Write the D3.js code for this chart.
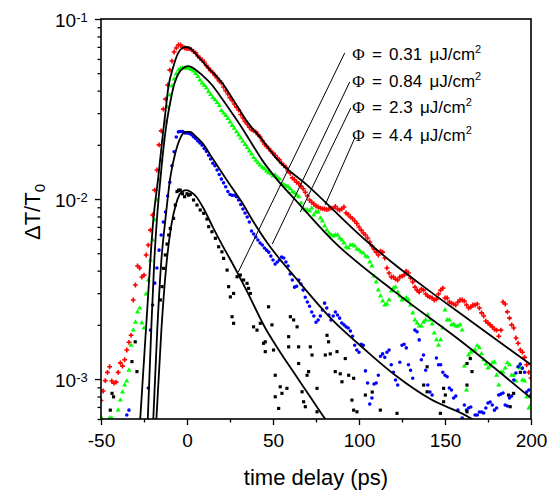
<!DOCTYPE html>
<html><head><meta charset="utf-8">
<script src="https://cdn.jsdelivr.net/npm/d3@7"></script>
<style>body{margin:0;background:#fff}</style>
</head><body><svg id="c" width="549" height="494"></svg>
<script>
// ---------- data ----------
const times = [-50,-47.5,-45,-42.5,-40,-37.5,-35,-32.5,-30,-27.5,-25,-22.5,-20,-17.5,-15,-12.5,-10,-7.5,-5,-2.5,0,2.5,5,7.5,10,12.5,15,17.5,20,22.5,25,27.5,30,32.5,35,37.5,40,42.5,45,47.5,50,52.5,55,57.5,60,62.5,65,67.5,70,72.5,75,77.5,80,82.5,85,87.5,90,92.5,95,97.5,100,102.5,105,107.5,110,112.5,115,117.5,120,122.5,125,127.5,130,132.5,135,137.5,140,142.5,145,147.5,150,152.5,155,157.5,160,162.5,165,167.5,170,172.5,175,177.5,180,182.5,185,187.5,190,192.5,195,197.5,200];
const times2 = [-48.75,-46.25,-43.75,-41.25,-38.75,-36.25,-33.75,-31.25,-28.75,-26.25,-23.75,-21.25,-18.75,-16.25,-13.75,-11.25,-8.75,-6.25,-3.75,-1.25,1.25,3.75,6.25,8.75,11.25,13.75,16.25,18.75,21.25,23.75,26.25,28.75,31.25,33.75,36.25,38.75,41.25,43.75,46.25,48.75,51.25,53.75,56.25,58.75,61.25,63.75,66.25,68.75,71.25,73.75,76.25,78.75,81.25,83.75,86.25,88.75,91.25,93.75,96.25,98.75,101.25,103.75,106.25,108.75,111.25,113.75,116.25,118.75,121.25,123.75,126.25,128.75,131.25,133.75,136.25,138.75,141.25,143.75,146.25,148.75,151.25,153.75,156.25,158.75,161.25,163.75,166.25,168.75,171.25,173.75,176.25,178.75,181.25,183.75,186.25,188.75,191.25,193.75,196.25,198.75];

const red = [7.6e-4,9.8e-4,1.17e-3,9.5e-4,1.09e-3,1.18e-3,1.45e-3,1.75e-3,3.33e-3,4.14e-3,3.78e-3,5.55e-3,8.15e-3,1.45e-2,2.39e-2,3.59e-2,5.2e-2,6.56e-2,7.17e-2,6.99e-2,6.85e-2,6.77e-2,6.48e-2,6.07e-2,5.77e-2,5.34e-2,5.04e-2,4.7e-2,4.41e-2,4.0e-2,3.66e-2,3.37e-2,3.12e-2,2.82e-2,2.61e-2,2.43e-2,2.36e-2,2.21e-2,2.02e-2,1.91e-2,1.8e-2,1.69e-2,1.58e-2,1.5e-2,1.39e-2,1.28e-2,1.22e-2,1.14e-2,1.04e-2,9.6e-3,9.15e-3,8.9e-3,8.8e-3,8.8e-3,8.9e-3,8.8e-3,8.8e-3,8.36e-3,7.94e-3,7.55e-3,6.99e-3,6.48e-3,6.07e-3,5.48e-3,5.07e-3,5.14e-3,4.7e-3,3.88e-3,3.69e-3,3.55e-3,3.73e-3,3.98e-3,3.64e-3,3.24e-3,3.04e-3,3.12e-3,2.89e-3,2.82e-3,2.78e-3,3.12e-3,2.82e-3,2.68e-3,2.61e-3,2.68e-3,2.75e-3,2.58e-3,2.51e-3,2.58e-3,2.48e-3,2.24e-3,2.05e-3,1.95e-3,1.87e-3,1.87e-3,2.61e-3,2.18e-3,1.92e-3,1.58e-3,1.41e-3,1.2e-3,1.01e-3];
const red2 = [8.58e-4,1.09e-3,9.75e-4,9.62e-4,1.23e-3,1.28e-3,1.6e-3,2.75e-3,4.25e-3,3.69e-3,4.89e-3,6.72e-3,1.12e-2,2.0e-2,3.16e-2,4.3e-2,5.84e-2,6.9e-2,7.17e-2,6.9e-2,6.85e-2,6.6e-2,6.23e-2,5.92e-2,5.52e-2,5.17e-2,4.86e-2,4.53e-2,4.19e-2,3.83e-2,3.53e-2,3.24e-2,2.95e-2,2.7e-2,2.51e-2,2.39e-2,2.28e-2,2.11e-2,1.96e-2,1.85e-2,1.75e-2,1.65e-2,1.54e-2,1.43e-2,1.31e-2,1.24e-2,1.18e-2,1.09e-2,9.87e-3,9.38e-3,9.03e-3,8.85e-3,8.74e-3,8.91e-3,9.09e-3,8.69e-3,9.03e-3,8.2e-3,7.79e-3,7.31e-3,6.72e-3,6.31e-3,5.77e-3,5.27e-3,4.89e-3,5.07e-3,4.14e-3,3.69e-3,3.59e-3,3.69e-3,3.78e-3,3.88e-3,3.46e-3,3.12e-3,3.16e-3,2.97e-3,2.85e-3,2.75e-3,2.97e-3,3.2e-3,2.82e-3,2.64e-3,2.58e-3,2.75e-3,2.71e-3,2.48e-3,2.58e-3,2.61e-3,2.33e-3,2.1e-3,2.0e-3,1.89e-3,1.73e-3,2.68e-3,2.36e-3,2.0e-3,1.69e-3,1.45e-3,1.32e-3,1.09e-3];

const green = [6.15e-4,null,6.07e-4,null,6.72e-4,8.47e-4,9.75e-4,1.54e-3,2.07e-3,2.48e-3,1.92e-3,3.55e-3,5.92e-3,9.87e-3,1.65e-2,2.68e-2,3.78e-2,4.64e-2,5.2e-2,5.34e-2,5.34e-2,5.24e-2,4.98e-2,4.58e-2,4.27e-2,3.96e-2,3.66e-2,3.43e-2,3.1e-2,2.91e-2,2.68e-2,2.47e-2,2.27e-2,2.09e-2,1.93e-2,1.78e-2,1.64e-2,1.54e-2,1.47e-2,1.4e-2,1.34e-2,1.32e-2,1.21e-2,1.18e-2,1.14e-2,1.08e-2,1.03e-2,8.91e-3,8.69e-3,8.91e-3,8.47e-3,7.84e-3,7.08e-3,6.48e-3,6.23e-3,6.31e-3,5.92e-3,5.41e-3,5.55e-3,5.48e-3,5.2e-3,5.01e-3,4.76e-3,4.25e-3,3.46e-3,2.89e-3,2.58e-3,2.75e-3,3.2e-3,3.04e-3,2.75e-3,2.82e-3,2.58e-3,2.13e-3,1.97e-3,2.07e-3,2.27e-3,2.02e-3,1.65e-3,1.65e-3,2.42e-3,2.13e-3,2.02e-3,1.97e-3,1.87e-3,8.69e-4,1.41e-3,1.45e-3,1.49e-3,1.28e-3,1.15e-3,1.23e-3,1.05e-3,1.09e-3,1.15e-3,1.2e-3,1.05e-3,1.17e-3,9.87e-4,7.94e-4,7.17e-4];
const green2 = [null,null,6.07e-4,null,7.64e-4,9.26e-4,1.12e-3,1.87e-3,2.36e-3,2.05e-3,2.97e-3,4.58e-3,7.64e-3,1.28e-2,2.13e-2,3.24e-2,4.25e-2,4.95e-2,5.31e-2,5.34e-2,5.31e-2,5.14e-2,4.79e-2,4.41e-2,4.14e-2,3.81e-2,3.56e-2,3.31e-2,3.0e-2,2.8e-2,2.56e-2,2.36e-2,2.18e-2,2.01e-2,1.85e-2,1.7e-2,1.59e-2,1.5e-2,1.43e-2,1.38e-2,1.36e-2,1.29e-2,1.2e-2,1.17e-2,1.1e-2,1.05e-2,9.5e-3,8.69e-3,8.58e-3,8.15e-3,8.47e-3,7.55e-3,6.72e-3,6.31e-3,6.31e-3,6.07e-3,5.7e-3,5.34e-3,5.55e-3,5.27e-3,5.07e-3,4.82e-3,4.47e-3,3.73e-3,3.12e-3,2.71e-3,2.61e-3,3.08e-3,3.24e-3,2.89e-3,2.78e-3,2.75e-3,2.33e-3,2.05e-3,1.97e-3,2.13e-3,2.13e-3,1.8e-3,1.54e-3,1.92e-3,2.13e-3,2.0e-3,1.97e-3,2.0e-3,1.18e-3,1.36e-3,1.43e-3,1.53e-3,1.38e-3,1.21e-3,1.18e-3,1.24e-3,9.26e-4,1.09e-3,1.23e-3,1.05e-3,9.75e-4,1.15e-3,9.75e-4,6.9e-4];

const blue = [null,null,null,null,null,null,6.31e-4,null,null,null,null,8.91e-4,2.58e-3,4.14e-3,6.31e-3,8.47e-3,1.24e-2,1.83e-2,2.36e-2,2.37e-2,2.33e-2,2.28e-2,2.17e-2,2.05e-2,1.91e-2,1.75e-2,1.58e-2,1.45e-2,1.29e-2,1.17e-2,1.06e-2,1.05e-2,9.87e-3,8.8e-3,7.94e-3,6.64e-3,6.15e-3,5.7e-3,5.34e-3,5.07e-3,4.58e-3,4.47e-3,4.76e-3,4.47e-3,3.83e-3,3.24e-3,3.55e-3,3.12e-3,2.68e-3,2.36e-3,2.07e-3,2.24e-3,2.64e-3,2.27e-3,2.24e-3,2.27e-3,2.05e-3,1.95e-3,1.85e-3,1.54e-3,1.41e-3,1.54e-3,9.5e-4,7.84e-4,9.5e-4,1.34e-3,1.32e-3,1.45e-3,1.09e-3,9.26e-4,1.54e-3,1.49e-3,1.12e-3,1.87e-3,1.65e-3,1.36e-3,9.26e-4,8.15e-4,1.31e-3,1.2e-3,1.05e-3,8.91e-4,7.84e-4,6.72e-4,6.07e-4,6.72e-4,6.99e-4,6.31e-4,6.56e-4,6.48e-4,7.36e-4,7.17e-4,6.9e-4,8.25e-4,7.17e-4,7.84e-4,9.87e-4,1.17e-3,1.15e-3,8.47e-4,8.15e-4];
const blue2 = [null,null,null,null,null,null,6.72e-4,null,null,null,null,1.87e-3,3.41e-3,5.2e-3,7.45e-3,1.04e-2,1.53e-2,2.21e-2,2.37e-2,2.33e-2,2.31e-2,2.22e-2,2.1e-2,1.99e-2,1.84e-2,1.67e-2,1.53e-2,1.37e-2,1.23e-2,1.1e-2,1.05e-2,1.03e-2,9.32e-3,8.36e-3,7.45e-3,6.39e-3,5.92e-3,5.55e-3,5.2e-3,4.82e-3,4.35e-3,4.58e-3,4.7e-3,4.25e-3,3.55e-3,3.28e-3,3.37e-3,2.85e-3,2.54e-3,2.24e-3,2.13e-3,2.42e-3,2.48e-3,2.13e-3,2.36e-3,2.18e-3,2.0e-3,1.92e-3,1.73e-3,1.45e-3,1.56e-3,1.11e-3,7.26e-4,9.38e-4,1.05e-3,1.38e-3,1.41e-3,1.2e-3,9.87e-4,1.24e-3,1.56e-3,1.2e-3,1.01e-3,1.83e-3,1.28e-3,1.12e-3,8.47e-4,null,1.2e-3,1.09e-3,1.03e-3,8.69e-4,8.04e-4,null,7.17e-4,6.9e-4,null,6.31e-4,6.56e-4,6.9e-4,7.45e-4,6.72e-4,8.15e-4,8.36e-4,7.08e-4,8.04e-4,1.08e-3,1.21e-3,1.09e-3,8.69e-4];

const blackT = [-44.6,-43.6,-42.7,-32.0,-30.1,-29.1,-15.5,-14.5,-13.6,-12.6,-11.6,-10.6,-9.7,-7.8,-6.8,-5.8,-4.9,-3.9,-2.6,-1.4,0,0.9,1.9,3.8,5.8,7.7,9.7,11.6,12.6,14.5,16.5,18.4,20.3,21.3,23.3,24.2,25.2,26.2,27.1,27.1,29.1,31.0,32.9,34.9,35.8,36.8,38.7,40.7,42.6,44.5,45.5,45.5,47.4,49.4,50.3,51.3,51.3,53.3,54.2,55.2,58.1,59.1,59.1,60.1,62.0,64.0,64.9,64.9,66.9,67.8,68.8,69.8,70.7,71.7,72.7,75.6,75.6,80.4,81.4,82.3,83.3,86.2,87.2,89.1,90.1,92.0,94.0,95.9,96.9,96.9,98.8,103.7,107.7,112.4,122.1,137.6,139.6,139.6,147.3,149.2,149.2,150.2,162.8,162.8,162.8,164.7,165.7,186.9,187.9,189.9,193.8];
const blackV = [6.72e-4,8.33e-4,7.97e-4,1.25e-3,1.61e-3,1.1e-3,2.75e-3,3.26e-3,4.12e-3,4.89e-3,5.62e-3,6.31e-3,6.87e-3,7.81e-3,9.26e-3,1.1e-2,1.12e-2,1.12e-2,1.07e-2,1.03e-2,1.07e-2,1.05e-2,1.06e-2,9.87e-3,9.26e-3,8.69e-3,8.33e-3,7.74e-3,7.02e-3,6.58e-3,6.05e-3,5.43e-3,5.09e-3,4.68e-3,4.03e-3,3.26e-3,2.86e-3,2.22e-3,2.99e-3,2.04e-3,3.7e-3,3.78e-3,3.55e-3,3.4e-3,3.19e-3,2.99e-3,1.95e-3,1.87e-3,2.04e-3,1.58e-3,1.61e-3,1.42e-3,2.52e-3,2.0e-3,1.45e-3,1.05e-3,7.97e-4,6.87e-4,9.06e-4,8.33e-4,8.88e-4,1.72e-3,1.51e-3,2.22e-3,2.13e-3,1.95e-3,1.51e-3,1.22e-3,8.5e-4,7.48e-4,7.02e-4,1.05e-3,1.1e-3,1.51e-3,1.36e-3,8.88e-4,6.58e-4,1.36e-3,1.75e-3,1.61e-3,1.38e-3,1.1e-3,1.42e-3,1.07e-3,9.66e-4,1.3e-3,1.05e-3,7.64e-4,6.72e-4,1.01e-3,6.58e-4,8.15e-4,8.47e-4,6.72e-4,6.45e-4,9.26e-4,1.17e-3,8.5e-4,6.45e-4,8.88e-4,7.48e-4,8.15e-4,1.22e-3,9.26e-4,6.58e-4,1.3e-3,1.1e-3,8.15e-4,7.02e-4,8.33e-4,1.09e-3];

// fit curves
const redFitT = [-27.2,-23.4,-19.6,-16.7,-14.4,-12.6,-10.9,-8.0,-5.1,-2.7,-0.4,3.1,6.6,12.4,20.5,28.1,35.6,43.8,51.3,70.5,103.7,121.1,140.3,164.7,200];
const redFitV = [6.0e-4,2.21e-3,7.64e-3,1.32e-2,2.13e-2,3.0e-2,4.14e-2,5.41e-2,6.48e-2,6.9e-2,6.99e-2,6.72e-2,6.15e-2,5.34e-2,4.41e-2,3.41e-2,2.64e-2,2.13e-2,1.71e-2,1.18e-2,5.92e-3,4.3e-3,3.12e-3,2.11e-3,1.2e-3];
const greenFitT = [-22.8,-20.8,-19.0,-17.3,-15.5,-13.8,-12.0,-9.7,-7.4,-5.1,-2.2,0.8,4.8,8.7,14.5,20.3,26.2,32.0,37.8,43.6,51.3,64.7,84.5,121.1,160.1,200];
const greenFitV = [6.0e-4,1.87e-3,4.58e-3,8.15e-3,1.28e-2,1.87e-2,2.58e-2,3.46e-2,4.35e-2,4.95e-2,5.34e-2,5.48e-2,5.25e-2,4.89e-2,4.3e-2,3.62e-2,3.0e-2,2.48e-2,2.02e-2,1.65e-2,1.32e-2,9.5e-3,5.92e-3,3.04e-3,1.6e-3,7.84e-4];
const blueFitT = [-19.6,-17.3,-14.9,-12.6,-9.7,-6.8,-3.9,-1.0,1.9,4.8,8.9,14.7,20.5,26.3,32.2,38.0,45.5,64.7,84.5,103.7,121.1,141.5,164.7,170.5];
const blueFitV = [6.0e-4,1.87e-3,4.58e-3,7.64e-3,1.32e-2,1.8e-2,2.18e-2,2.36e-2,2.36e-2,2.24e-2,2.05e-2,1.69e-2,1.39e-2,1.15e-2,9.5e-3,7.64e-3,5.92e-3,3.5e-3,2.13e-3,1.45e-3,1.05e-3,7.74e-4,6.07e-4,5.55e-4];
const blackFitT = [-17.8,-14.9,-12.0,-9.1,-6.2,-3.3,-0.4,2.5,5.4,9.5,15.3,20.5,26.3,35.1,45.5,54.2,62.9,71.7,80.4,83.3];
const blackFitV = [6.0e-4,1.87e-3,4.3e-3,7.17e-3,9.5e-3,1.09e-2,1.12e-2,1.09e-2,1.03e-2,8.91e-3,6.9e-3,5.55e-3,4.41e-3,3.04e-3,1.92e-3,1.41e-3,1.06e-3,7.94e-4,5.99e-4,5.48e-4];

// legend
const legendFluence = ["0.31","0.84","2.3","4.4"];
const leaderStartT = [91.7,94.6,95.2,97.5];
const leaderStartV = [6.48e-2,4.47e-2,3.2e-2,2.18e-2];
const leaderEndT = [29.8,49.6,65.9,80.3];
const leaderEndV = [3.93e-3,5.62e-3,8.47e-3,9.26e-3];
const legendTextT = 96.1;
const legendTextV = [5.9e-2,4.2e-2,3.0e-2,2.1e-2];

const xMajor = [-50,0,50,100,150,200];
const xMajorLabels = ["-50","0","50","100","150","200"];
const xMinor = [-25,25,75,125,175];
const yMajor = [1e-3,1e-2,1e-1];
const yMajorExp = ["-3","-2","-1"];
const yMinor = [6e-4,7e-4,8e-4,9e-4,2e-3,3e-3,4e-3,5e-3,6e-3,7e-3,8e-3,9e-3,2e-2,3e-2,4e-2,5e-2,6e-2,7e-2,8e-2,9e-2];

// sanity check of array lengths
[[times,red],[times,green],[times,blue],[times2,red2],[times2,green2],[times2,blue2],[blackT,blackV]].forEach(([a,b],i)=>{
  if (a.length !== b.length) throw new Error('length mismatch in set '+i+': '+a.length+' vs '+b.length);
});

// ---------- drawing ----------
const svg = d3.select('#c');
const x = d3.scaleLinear().domain([-50,200]).range([101,531]);
const y = d3.scaleLog().domain([6e-4,0.1]).range([419,19]);
const FONT = "'Liberation Sans', Arial, Helvetica, sans-serif";

svg.append('defs').append('clipPath').attr('id','clip')
  .append('rect').attr('x',101).attr('y',19).attr('width',430).attr('height',400);

const plot = svg.append('g').attr('clip-path','url(#clip)');

const series = [
  {t: times, v: red, t2: times2, v2: red2, color:'#ff0000', sym: d3.symbolCross, size: 13},
  {t: times, v: green, t2: times2, v2: green2, color:'#00ff00', sym: d3.symbolTriangle, size: 11},
  {t: times, v: blue, t2: times2, v2: blue2, color:'#0000ff', sym: d3.symbolCircle, size: 10},
  {t: blackT, v: blackV, t2: [], v2: [], color:'#000000', sym: d3.symbolSquare, size: 10}
];
series.forEach(s => {
  const pts = s.t.map((t,i)=>[t,s.v[i]]).concat(s.t2.map((t,i)=>[t,s.v2[i]])).filter(d=>d[1]!=null);
  plot.append('g').selectAll('path').data(pts).enter().append('path')
    .attr('d', d3.symbol().type(s.sym).size(s.size))
    .attr('transform', d=>`translate(${x(d[0])},${y(d[1])})`)
    .attr('fill', s.color);
});

const line = d3.line().x(d=>x(d[0])).y(d=>y(d[1])).curve(d3.curveMonotoneX);
[[redFitT,redFitV],[greenFitT,greenFitV],[blueFitT,blueFitV],[blackFitT,blackFitV]].forEach(([T,V])=>{
  plot.append('path').datum(T.map((t,i)=>[t,V[i]]))
    .attr('d', line).attr('fill','none').attr('stroke','#000').attr('stroke-width',1.8);
});

// leader lines and legend labels
legendFluence.forEach((f,i)=>{
  svg.append('line')
    .attr('x1', x(leaderStartT[i])).attr('y1', y(leaderStartV[i]))
    .attr('x2', x(leaderEndT[i])).attr('y2', y(leaderEndV[i]))
    .attr('stroke','#000').attr('stroke-width',1);
  const tx = svg.append('text').attr('x', x(legendTextT)).attr('y', y(legendTextV[i]))
    .attr('font-family', FONT).attr('font-size', 17).attr('word-spacing', 2.5).attr('fill','#000');
  tx.append('tspan').attr('font-family',"'Liberation Serif', serif").attr('font-size',17).text('Φ');
  tx.append('tspan').text(' = ' + f + ' μJ/cm');
  tx.append('tspan').attr('font-size', 11).attr('dy', -7).text('2');
});

// frame
svg.append('rect').attr('x',101).attr('y',19).attr('width',430).attr('height',400)
  .attr('fill','none').attr('stroke','#000').attr('stroke-width',1.6);

// x axis
const gx = svg.append('g').attr('transform','translate(0,419)');
gx.call(d3.axisBottom(x).tickValues(xMajor).tickSize(6).tickFormat((d,i)=>xMajorLabels[i]));
gx.append('g').call(d3.axisBottom(x).tickValues(xMinor).tickSize(3.5).tickFormat(''));
gx.selectAll('.domain').remove();
gx.selectAll('line').attr('stroke','#000').attr('stroke-width',1.3);
gx.selectAll('text').attr('font-family',FONT).attr('font-size',19).attr('fill','#000').attr('dy',0).attr('y',27.5);

// y axis
const gy = svg.append('g').attr('transform','translate(101,0)');
gy.call(d3.axisLeft(y).tickValues(yMajor).tickSize(6).tickFormat(''));
gy.append('g').call(d3.axisLeft(y).tickValues(yMinor).tickSize(3.5).tickFormat(''));
gy.selectAll('.domain').remove();
gy.selectAll('line').attr('stroke','#000').attr('stroke-width',1.3);
yMajor.forEach((v,i)=>{
  const t = svg.append('text').attr('x', 55).attr('y', y(v)+7.7)
    .attr('font-family',FONT).attr('font-size',19).attr('fill','#000');
  t.append('tspan').text('10');
  t.append('tspan').attr('font-size',13).attr('dy',-5).text(yMajorExp[i]);
});

// axis titles
svg.append('text').attr('x',316).attr('y',485).attr('text-anchor','middle')
  .attr('font-family',FONT).attr('font-size',22).attr('fill','#000').text('time delay (ps)');
const yt = svg.append('text').attr('transform','translate(40,212) rotate(-90)').attr('text-anchor','middle')
  .attr('font-family',FONT).attr('font-size',22).attr('fill','#000');
yt.append('tspan').text('ΔT/T');
yt.append('tspan').attr('font-size',15).attr('dy',5).text('0');
</script></body></html>
